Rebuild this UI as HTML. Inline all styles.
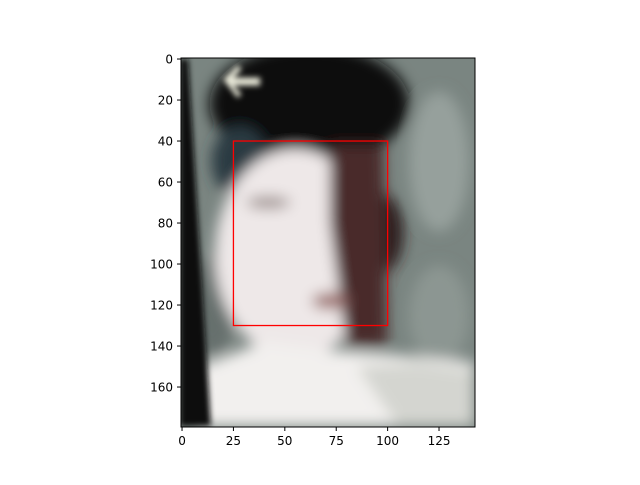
<!DOCTYPE html>
<html><head><meta charset="utf-8"><style>
body{margin:0;background:#fff;width:640px;height:480px;overflow:hidden}
text{font-family:"DejaVu Sans","Liberation Sans",sans-serif;font-size:12px;fill:#000}
</style></head><body>
<svg id="chart" width="640" height="480" xmlns="http://www.w3.org/2000/svg">
<defs>
<filter id="bl" x="-20%" y="-20%" width="140%" height="140%"><feGaussianBlur stdDeviation="3"/></filter>
<filter id="bl2" x="-30%" y="-30%" width="160%" height="160%"><feGaussianBlur stdDeviation="7"/></filter>
<clipPath id="cp"><rect x="181" y="58" width="294" height="369"/></clipPath>
</defs>
<g id="photo" clip-path="url(#cp)"></g>
<g id="marks"></g>
<rect x="181" y="58" width="294" height="369" fill="none" stroke="#000" stroke-width="1"/>
<g id="ticks"></g>
</svg>
<script>
const xTicks=[0,25,50,75,100,125];
const yTicks=[0,20,40,60,80,100,120,140,160];
const box=[25,40,75,90]; // x, y, width, height in image pixels
const imgW=143, imgH=180;
const X0=181,Y0=58,PW=294,PH=369;
function sx(v){return X0+(v+0.5)*PW/imgW;}
function sy(v){return Y0+(v+0.5)*PH/imgH;}
const NS="http://www.w3.org/2000/svg";
function mk(tag,attrs,parent){const e=document.createElementNS(NS,tag);for(const k in attrs)e.setAttribute(k,attrs[k]);parent.appendChild(e);return e;}
const photo=document.getElementById('photo');
function P(pts){return pts.map(p=>sx(p[0])+','+sy(p[1])).join(' ');}
mk('rect',{x:X0,y:Y0,width:PW,height:PH,fill:'#7a8581'},photo);
const g=mk('g',{filter:'url(#bl2)'},photo);
mk('ellipse',{cx:sx(125),cy:sy(50),rx:30,ry:70,fill:'#96a09c'},g);
mk('ellipse',{cx:sx(125),cy:sy(125),rx:30,ry:50,fill:'#8c9692'},g);
mk('ellipse',{cx:sx(15),cy:sy(120),rx:22,ry:50,fill:'#66706d'},g);
mk('ellipse',{cx:sx(62),cy:sy(22),rx:100,ry:60,fill:'#0c0d0e'},g);
mk('ellipse',{cx:sx(28),cy:sy(50),rx:28,ry:35,fill:'#2a3a42'},g);
mk('ellipse',{cx:sx(97),cy:sy(85),rx:22,ry:40,fill:'#2a1e1e'},g);
mk('ellipse',{cx:sx(22),cy:sy(85),rx:10,ry:22,fill:'#a89a96'},g);
mk('ellipse',{cx:sx(55),cy:sy(95),rx:80,ry:105,fill:'#eee8e8'},g);
mk('polygon',{points:P([[72,42],[98,42],[100,140],[80,140],[76,110],[72,80]]),fill:'#4a2c2a'},g);
mk('ellipse',{cx:sx(42),cy:sy(70),rx:22,ry:6,fill:'#9a8c8a'},g);
mk('ellipse',{cx:sx(72),cy:sy(118),rx:18,ry:8,fill:'#9a6a68'},g);
mk('polygon',{points:P([[8,150],[40,138],[70,142],[100,144],[142,148],[142,179],[8,179]]),fill:'#f2f0ee'},g);
mk('polygon',{points:P([[85,150],[115,148],[142,152],[142,179],[105,179]]),fill:'#d4d5d0'},g);
const g2=mk('g',{filter:'url(#bl)'},photo);
mk('polygon',{points:P([[-1,0],[3,0],[14,179],[-1,179]]),fill:'#0b0c0c'},g2);
mk('polygon',{points:P([[20,10],[27,3],[29,5],[25,9],[38,9],[38,13],[25,13],[29,17],[27,19]]),fill:'#e8e8d8'},g2);
const marks=document.getElementById('marks');
const r=mk('rect',{x:sx(box[0]),y:sy(box[1]),width:sx(box[0]+box[2])-sx(box[0]),height:sy(box[1]+box[3])-sy(box[1]),fill:'none',stroke:'#ff0000','stroke-width':1.3},marks);


const t=document.getElementById('ticks');
xTicks.forEach(v=>{const x=sx(v);
 const l=mk('line',{x1:x,x2:x,y1:427,y2:431,stroke:'#000'},t);
 
 
 const tx=mk('text',{x:x,y:445,'text-anchor':'middle'},t);tx.textContent=v;
 
 });
yTicks.forEach(v=>{const y=sy(v);
 const l=mk('line',{x1:177,x2:181,y1:y,y2:y,stroke:'#000'},t);
 
 
 const tx=mk('text',{x:173,y:y+4.5,'text-anchor':'end'},t);tx.textContent=v;
 
 });
</script>
</body></html>
